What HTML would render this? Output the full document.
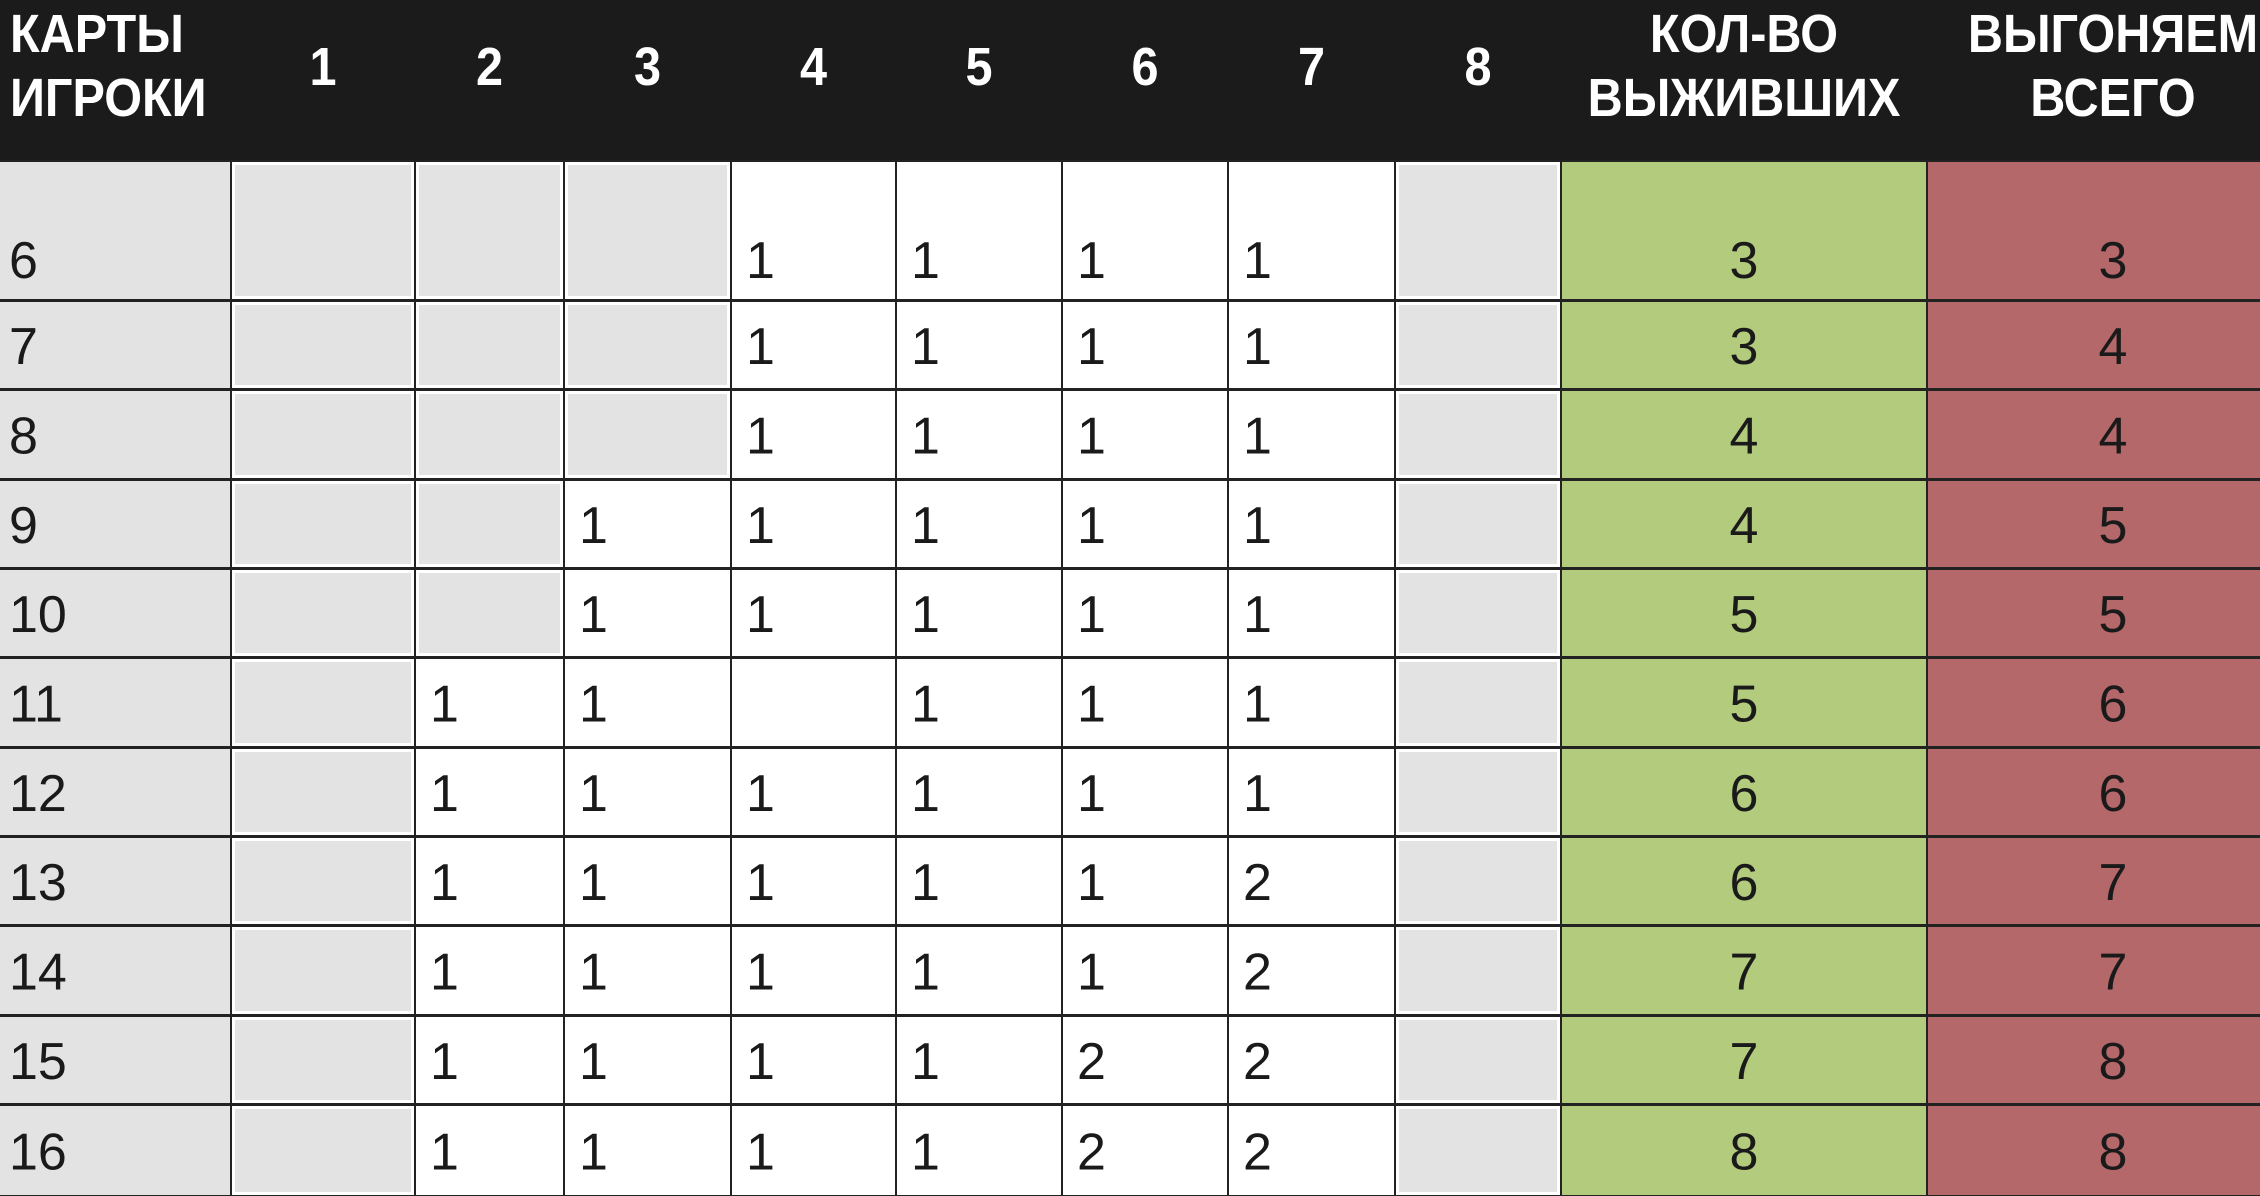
<!DOCTYPE html>
<html><head><meta charset="utf-8">
<style>
html,body{margin:0;padding:0;background:#fff;}
body{width:2260px;height:1196px;overflow:hidden;position:relative;font-family:"Liberation Sans",sans-serif;}
svg{display:block}
</style></head>
<body>
<svg id="tbl" width="2260" height="1196" viewBox="0 0 2260 1196"></svg>
<script>
const players = [6,7,8,9,10,11,12,13,14,15,16];
// card columns 1..8 : null = unavailable (gray), "" = empty white
const card1 = [null,null,null,null,null,null,null,null,null,null,null];
const card2 = [null,null,null,null,null,"1","1","1","1","1","1"];
const card3 = [null,null,null,"1","1","1","1","1","1","1","1"];
const card4 = ["1","1","1","1","1","","1","1","1","1","1"];
const card5 = ["1","1","1","1","1","1","1","1","1","1","1"];
const card6 = ["1","1","1","1","1","1","1","1","1","2","2"];
const card7 = ["1","1","1","1","1","1","1","2","2","2","2"];
const card8 = [null,null,null,null,null,null,null,null,null,null,null];
const survivors = [3,3,4,4,5,5,6,6,7,7,8];
const kicked = [3,4,4,5,5,6,6,7,7,8,8];
const headerLabels = ["1","2","3","4","5","6","7","8"];

const NS="http://www.w3.org/2000/svg";
const svg=document.getElementById('tbl');
const colX=[0,231,415,564,731,896,1062,1228,1395,1561,1927,2260];
const rowY=[160,300,389,479,568,657,747,836,925,1015,1104,1196];
function mk(t,a,p){const e=document.createElementNS(NS,t);for(const k in a)e.setAttribute(k,a[k]);(p||svg).appendChild(e);return e;}

// header
const hdr=mk('rect',{x:0,y:0,width:2260,height:160,fill:'#1b1b1b'});


const hfont='"Liberation Sans",sans-serif';
function htext(x,y,s,anchor,name){const t=mk('text',{x:0,y:0,transform:'translate('+x+','+y+') scale(0.9,1)',fill:'#fff','font-family':hfont,'font-weight':'bold','font-size':54,'text-anchor':anchor});t.textContent=s;


return t;}
htext(10,52,'КАРТЫ','start','header-cards');
htext(10,116,'ИГРОКИ','start','header-players');
headerLabels.forEach((l,i)=>{htext((colX[i+1]+colX[i+2])/2,85,l,'middle','header-card-'+l);});
htext(1744,52,'КОЛ-ВО','middle','header-survivors-1');
htext(1744,116,'ВЫЖИВШИХ','middle','header-survivors-2');
htext(2113,52,'ВЫГОНЯЕМ','middle','header-kicked-1');
htext(2113,116,'ВСЕГО','middle','header-kicked-2');

// grid background (lines)
mk('rect',{x:0,y:160,width:2260,height:1036,fill:'#222'});
const cards=[card1,card2,card3,card4,card5,card6,card7,card8];
const bfont='"Liberation Sans",sans-serif';
function btext(x,y,s,anchor,name){const t=mk('text',{x:x,y:y,fill:'#1a1a1a','font-family':bfont,'font-size':52,'text-anchor':anchor});t.textContent=s;

}
players.forEach((p,r)=>{
  const y0=rowY[r]+2,y1=rowY[r+1]-1;
  const ty = r===0 ? rowY[1]-22 : (y0+y1)/2+19;
  let c=mk('rect',{x:0,y:y0,width:colX[1]-1,height:y1-y0,fill:'#e3e3e3'});
  
  
  btext(9,ty,String(p),'start','player-count-'+p);
  cards.forEach((col,ci)=>{
    const x0=colX[ci+1]+1,x1=colX[ci+2]-1;
    const v=col[r];
    if(v===null){
      mk('rect',{x:x0,y:y0,width:x1-x0,height:y1-y0,fill:'#fff'});
      const g=mk('rect',{x:x0+3,y:y0+3,width:x1-x0-6,height:y1-y0-6,fill:'#e3e3e3'});
      
      
    } else {
      const w=mk('rect',{x:x0,y:y0,width:x1-x0,height:y1-y0,fill:'#fff'});
      
      
      if(v!=='') btext(x0+14,ty,v,'start','card-value');
    }
  });
  const gx0=colX[9]+1,gx1=colX[10]-1;
  const g=mk('rect',{x:gx0,y:y0,width:gx1-gx0,height:y1-y0,fill:'#b3cb7c'});
  
  
  btext(1744,ty,String(survivors[r]),'middle','survivors-value');
  const rx0=colX[10]+1,rx1=2260;
  const k=mk('rect',{x:rx0,y:y0,width:rx1-rx0,height:y1-y0,fill:'#b4686a'});
  
  
  btext(2113,ty,String(kicked[r]),'middle','kicked-value');
});
</script>
</body></html>
